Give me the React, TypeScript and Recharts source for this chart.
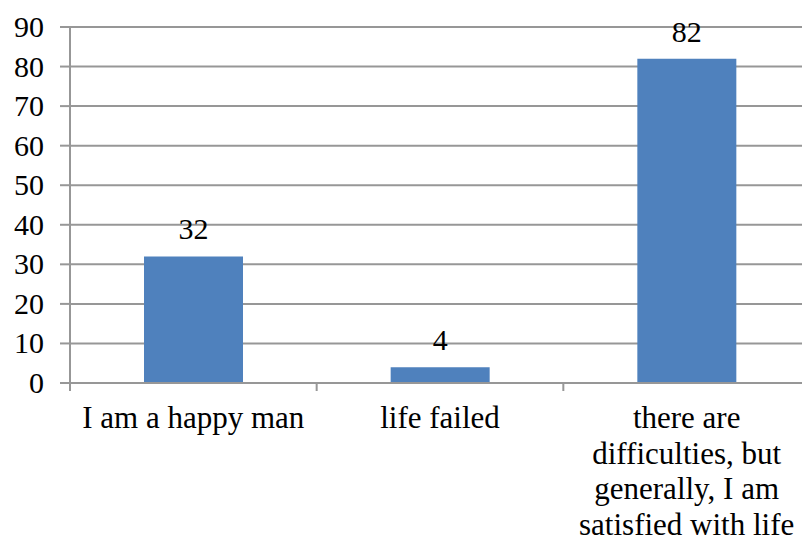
import React from "react";
import { BarChart, Bar, XAxis, YAxis, CartesianGrid, LabelList } from "recharts";

const categories = [
  "I am a happy man",
  "life failed",
  "there are\ndifficulties, but\ngenerally, I am\nsatisfied with life",
];
const values = [32, 4, 82];
const yTicks = [0, 10, 20, 30, 40, 50, 60, 70, 80, 90];

const data = categories.map((c, i) => ({ name: c, value: values[i] }));

const CHART_W = 810;
const CHART_H = 537;
const LEFT = 70;
const BAND = (CHART_W - LEFT) / categories.length;
const FONT = '"Liberation Serif", "Times New Roman", serif';
const FS = 30;
const AXIS = "#979797";

const serifRef = (el: SVGTextElement | null) => {
  if (el) {
    el.style.setProperty("font-family", FONT, "important");
    el.querySelectorAll("tspan").forEach((t) =>
      (t as SVGElement).style.setProperty("font-family", FONT, "important")
    );
  }
};

const XTick = (props: any) => {
  const { x, y, payload } = props;
  const lines = String(payload.value).split("\n");
  const left = x - BAND / 2;
  return (
    <g>
      <line x1={left} y1={y - 8} x2={left} y2={y} stroke={AXIS} strokeWidth={2} />
      <text ref={serifRef} x={x} y={y + 37} textAnchor="middle" fontSize={31} fill="#000">
        {lines.map((l, i) => (
          <tspan key={i} x={x} dy={i === 0 ? 0 : 35.5}>
            {l}
          </tspan>
        ))}
      </text>
    </g>
  );
};

const YTick = (props: any) => {
  const { x, y, payload } = props;
  return (
    <text ref={serifRef} x={x - 16} y={y} dy={10} textAnchor="end" fontSize={FS} fill="#000">
      {payload.value}
    </text>
  );
};

const BarLabel = (props: any) => {
  const { x, y, width, value } = props;
  return (
    <text ref={serifRef} x={x + width / 2} y={y - 17} textAnchor="middle" fontSize={FS} fill="#000">
      {value}
    </text>
  );
};

export default function App() {
  return (
    <div style={{ position: "absolute", left: 0, top: 0, width: 802, height: 537, overflow: "hidden", background: "#fff" }}>
      <BarChart
        width={CHART_W}
        height={CHART_H}
        data={data}
        margin={{ top: 27, right: 0, bottom: 0, left: 0 }}
        barCategoryGap="30%"
      >
        <CartesianGrid vertical={false} stroke={AXIS} strokeWidth={2} />
        <XAxis
          dataKey="name"
          height={154}
          interval={0}
          tickLine={false}
          axisLine={{ stroke: AXIS, strokeWidth: 2 }}
          tick={<XTick />}
          tickSize={0}
          tickMargin={8}
        />
        <YAxis
          width={70}
          domain={[0, 90]}
          ticks={yTicks}
          interval={0}
          axisLine={{ stroke: AXIS, strokeWidth: 2 }}
          tickLine={{ stroke: AXIS, strokeWidth: 2 }}
          tickSize={10}
          tickMargin={0}
          tick={<YTick />}
        />
        <Bar dataKey="value" fill="#4F81BD" isAnimationActive={false}>
          <LabelList dataKey="value" content={<BarLabel />} />
        </Bar>
      </BarChart>
    </div>
  );
}
